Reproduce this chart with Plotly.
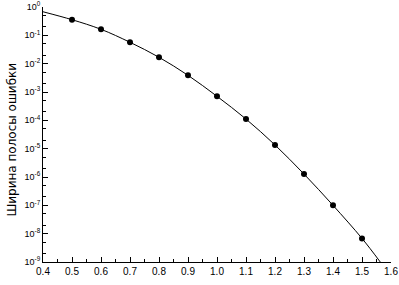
import plotly.graph_objects as go

# curve (line) values
line_x = [0.4, 0.5, 0.6, 0.7, 0.8, 0.9, 1.0, 1.1, 1.2, 1.3, 1.4, 1.5, 1.563]
line_y = [0.68, 0.356, 0.163, 0.0568, 0.0168, 0.00388, 7.05e-4, 1.11e-4,
          1.35e-5, 1.27e-6, 1.0e-7, 6.8e-9, 1.0e-9]
# marker points
pt_x = [0.5, 0.6, 0.7, 0.8, 0.9, 1.0, 1.1, 1.2, 1.3, 1.4, 1.5]
pt_y = [0.356, 0.163, 0.0568, 0.0168, 0.00388, 7.05e-4, 1.11e-4,
        1.35e-5, 1.27e-6, 1.0e-7, 6.8e-9]

y_exps = [0, -1, -2, -3, -4, -5, -6, -7, -8, -9]
y_tickvals = [10.0 ** e for e in y_exps]
y_ticktext = ["10<sup>%d</sup>" % e for e in y_exps]
x_tickvals = [0.4, 0.5, 0.6, 0.7, 0.8, 0.9, 1.0, 1.1, 1.2, 1.3, 1.4, 1.5, 1.6]
x_ticktext = ["0.4", "0.5", "0.6", "0.7", "0.8", "0.9", "1.0", "1.1", "1.2",
              "1.3", "1.4", "1.5", "1.6"]
y_title = "Ширина полосы ошибки"

fig = go.Figure()
fig.add_trace(go.Scatter(x=line_x, y=line_y, mode="lines",
                         line=dict(color="black", width=1, shape="spline"),
                         hoverinfo="skip"))
fig.add_trace(go.Scatter(x=pt_x, y=pt_y, mode="markers",
                         marker=dict(color="black", size=6)))

ff = "Liberation Sans, Arial, sans-serif"
font = dict(family=ff, size=10, color="black")
fig.update_layout(
    width=399, height=285,
    margin=dict(l=43, r=8, t=7, b=23, autoexpand=False),
    paper_bgcolor="white", plot_bgcolor="white",
    showlegend=False,
    font=font,
    xaxis=dict(range=[0.4, 1.6], tickvals=x_tickvals, ticktext=x_ticktext,
               ticks="inside", ticklen=5, tickwidth=1, tickcolor="black",
               showline=True, linecolor="black", linewidth=1,
               showgrid=False, zeroline=False, automargin=False,
               minor=dict(dtick=0.05, tick0=0.4, ticks="inside", ticklen=3,
                          tickcolor="black", showgrid=False),
               tickfont=font),
    yaxis=dict(type="log", range=[-9, 0], tickvals=y_tickvals, ticktext=y_ticktext,
               ticks="inside", ticklen=5, tickwidth=1, tickcolor="black",
               showline=True, linecolor="black", linewidth=1,
               showgrid=False, zeroline=False, automargin=False,
               minor=dict(ticks="inside", ticklen=3, tickcolor="black",
                          showgrid=False),
               tickfont=dict(family=ff, size=9, color="black")),
    annotations=[dict(text=y_title, xref="paper", yref="paper",
                      x=-43 / 348 + 12 / 348, y=0.48, xanchor="center",
                      yanchor="middle", textangle=-90, showarrow=False,
                      font=dict(family="DejaVu Sans, sans-serif", size=12,
                                color="black"))],
)
fig.write_html("out.html", config={"displayModeBar": False},
               post_script="document.body.style.margin='0';document.body.style.padding='0';")
